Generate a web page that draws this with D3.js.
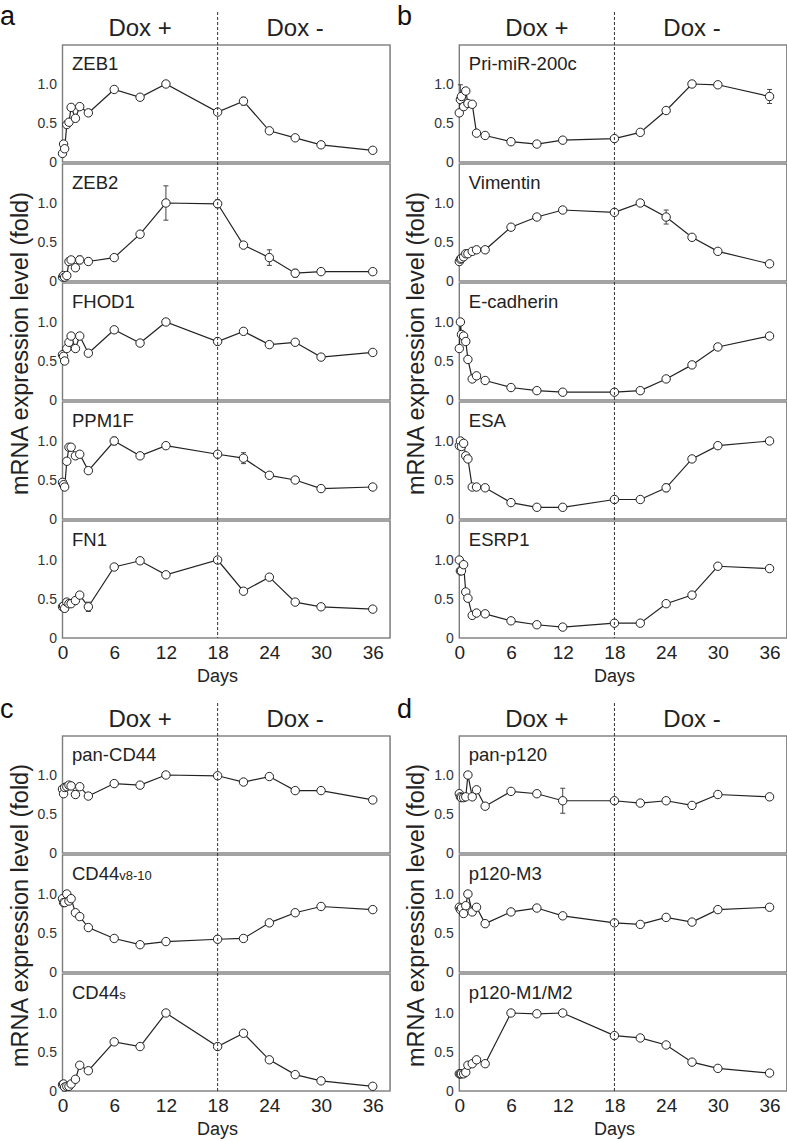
<!DOCTYPE html>
<html>
<head>
<meta charset="utf-8">
<script src="https://cdn.jsdelivr.net/npm/d3@7"></script>
<style>
  body { margin: 0; background: #fff; }
  svg { display: block; font-family: "Liberation Sans", Arial, sans-serif; }
</style>
</head>
<body>
<script>
// sampling days (0, 3h, 6h, 12h, 18h, 1d, 1.5d, 2d, 3d, then every 3-6 days)
const days = [0, 0.125, 0.25, 0.5, 0.75, 1, 1.5, 2, 3, 6, 9, 12, 18, 21, 24, 27, 30, 36];
const dayTicks = [0, 6, 12, 18, 24, 30, 36];
const levelTicks = [0, 0.5, 1.0];

// relative mRNA level
const zeb1 = [0.11, 0.23, 0.17, 0.48, 0.51, 0.70, 0.56, 0.71, 0.63, 0.93, 0.83, 1.00, 0.64, 0.78, 0.40, 0.31, 0.22, 0.15];
const zeb2 = [0.05, 0.07, 0.05, 0.07, 0.25, 0.27, 0.17, 0.27, 0.25, 0.30, 0.60, 1.00, 0.99, 0.46, 0.30, 0.10, 0.12, 0.12];
const fhod1 = [0.58, 0.56, 0.50, 0.66, 0.74, 0.82, 0.66, 0.82, 0.60, 0.90, 0.73, 1.00, 0.75, 0.88, 0.71, 0.74, 0.55, 0.61];
const ppm1f = [0.47, 0.44, 0.41, 0.74, 0.92, 0.92, 0.81, 0.83, 0.62, 1.00, 0.81, 0.94, 0.83, 0.78, 0.56, 0.50, 0.39, 0.41];
const fn1 = [0.40, 0.41, 0.38, 0.46, 0.44, 0.44, 0.48, 0.55, 0.40, 0.91, 0.99, 0.81, 1.00, 0.60, 0.78, 0.46, 0.40, 0.37];

const priMiR200c = [0.63, 0.80, 0.84, 0.71, 0.91, 0.75, 0.74, 0.37, 0.34, 0.26, 0.23, 0.28, 0.30, 0.38, 0.66, 1.00, 0.99, 0.84];
const vimentin = [0.25, 0.28, 0.29, 0.31, 0.35, 0.35, 0.38, 0.40, 0.40, 0.69, 0.82, 0.91, 0.88, 1.00, 0.82, 0.56, 0.38, 0.22];
const eCadherin = [0.66, 1.00, 0.84, 0.82, 0.75, 0.52, 0.27, 0.31, 0.25, 0.16, 0.12, 0.10, 0.10, 0.12, 0.27, 0.45, 0.68, 0.82];
const esa = [0.94, 1.00, 0.93, 0.97, 0.81, 0.77, 0.41, 0.41, 0.40, 0.21, 0.15, 0.15, 0.25, 0.25, 0.40, 0.77, 0.94, 1.00];
const esrp1 = [1.00, 0.86, 0.86, 0.94, 0.59, 0.51, 0.29, 0.32, 0.31, 0.22, 0.17, 0.14, 0.19, 0.19, 0.44, 0.55, 0.92, 0.89];

const panCD44 = [0.82, 0.76, 0.84, 0.85, 0.87, 0.86, 0.75, 0.85, 0.73, 0.89, 0.87, 1.00, 0.99, 0.91, 0.98, 0.80, 0.80, 0.68];
const cd44v = [0.94, 0.89, 0.89, 1.00, 0.91, 0.94, 0.76, 0.71, 0.57, 0.43, 0.35, 0.39, 0.42, 0.43, 0.63, 0.76, 0.84, 0.80];
const cd44s = [0.08, 0.09, 0.05, 0.06, 0.06, 0.09, 0.15, 0.33, 0.26, 0.63, 0.57, 1.00, 0.57, 0.74, 0.40, 0.21, 0.13, 0.06];

const panP120 = [0.76, 0.72, 0.71, 0.71, 0.72, 1.00, 0.72, 0.81, 0.60, 0.79, 0.76, 0.67, 0.67, 0.64, 0.67, 0.61, 0.75, 0.72];
const p120M3 = [0.83, 0.80, 0.82, 0.75, 0.85, 1.00, 0.77, 0.83, 0.62, 0.77, 0.82, 0.72, 0.63, 0.61, 0.70, 0.64, 0.80, 0.83];
const p120M1M2 = [0.22, 0.22, 0.22, 0.22, 0.24, 0.33, 0.35, 0.40, 0.35, 1.00, 0.99, 1.00, 0.71, 0.68, 0.59, 0.37, 0.29, 0.23];

// [gene, day, +/- error]
const errorBars = [
  ["ZEB1", 21, 0.05],
  ["ZEB2", 1, 0.04], ["ZEB2", 2, 0.05], ["ZEB2", 12, 0.22], ["ZEB2", 18, 0.05], ["ZEB2", 24, 0.10], ["ZEB2", 27, 0.05],
  ["FHOD1", 6, 0.04], ["FHOD1", 12, 0.04],
  ["PPM1F", 6, 0.05], ["PPM1F", 21, 0.07],
  ["FN1", 3, 0.06], ["FN1", 9, 0.04],
  ["Pri-miR-200c", 0.125, 0.19], ["Pri-miR-200c", 27, 0.04], ["Pri-miR-200c", 36, 0.09],
  ["Vimentin", 24, 0.09],
  ["ESA", 24, 0.05],
  ["pan-p120", 12, 0.16]
];

const series = {
  "ZEB1": zeb1, "ZEB2": zeb2, "FHOD1": fhod1, "PPM1F": ppm1f, "FN1": fn1,
  "Pri-miR-200c": priMiR200c, "Vimentin": vimentin, "E-cadherin": eCadherin, "ESA": esa, "ESRP1": esrp1,
  "pan-CD44": panCD44, "CD44v8-10": cd44v, "CD44s": cd44s,
  "pan-p120": panP120, "p120-M3": p120M3, "p120-M1/M2": p120M1M2
};
// label text, with optional subscript part
const labels = {
  "CD44v8-10": ["CD44", "v8-10"],
  "CD44s": ["CD44", "s"]
};

const panels = [
  { letter: "a", genes: ["ZEB1", "ZEB2", "FHOD1", "PPM1F", "FN1"], x0: 62.5, top: 45, lx: 0, ly: 25 },
  { letter: "b", genes: ["Pri-miR-200c", "Vimentin", "E-cadherin", "ESA", "ESRP1"], x0: 459.3, top: 45, lx: 397, ly: 25 },
  { letter: "c", genes: ["pan-CD44", "CD44v8-10", "CD44s"], x0: 62.5, top: 736, lx: 0, ly: 718 },
  { letter: "d", genes: ["pan-p120", "p120-M3", "p120-M1/M2"], x0: 459.3, top: 736, lx: 397, ly: 718 }
];

const W = 787, H = 1141;
const plotW = 327.5, plotH = 117, step = 119;
const ink = "#222";

const svg = d3.select("body").append("svg")
    .attr("width", W)
    .attr("height", H);

// faint panel edges left over from the figure assembly
svg.append("g")
    .attr("stroke", "#d4d4d4")
    .attr("stroke-width", 1)
    .selectAll("line")
    .data([[45, 638], [736, 1091]])
    .join("line")
    .attr("x1", 390.5).attr("x2", 390.5)
    .attr("y1", d => d[0]).attr("y2", d => d[1]);

panels.forEach(p => {
    const g = svg.append("g");
    const x = d3.scaleLinear().domain([0, 38]).range([p.x0, p.x0 + plotW]);
    const bottom = p.top + (p.genes.length - 1) * step + plotH;

    g.append("text")
        .attr("x", p.lx).attr("y", p.ly)
        .attr("font-size", 27)
        .attr("fill", "#111")
        .text(p.letter);

    g.selectAll(".dox")
        .data([[9, "Dox +"], [27, "Dox -"]])
        .join("text")
        .attr("x", d => x(d[0]))
        .attr("y", p.top - 9.5)
        .attr("text-anchor", "middle")
        .attr("font-size", 24)
        .attr("fill", ink)
        .text(d => d[1]);

    g.append("text")
        .attr("transform", `translate(${p.x0 - 35},${(p.top + bottom) / 2 + 2}) rotate(-90)`)
        .attr("text-anchor", "middle")
        .attr("font-size", 23.5)
        .attr("fill", ink)
        .text("mRNA expression level (fold)");

    p.genes.forEach((name, i) => {
        const t = p.top + i * step;
        const y = d3.scaleLinear().domain([0, 1.5]).range([t + plotH, t]);
        const vals = series[name];
        const pts = days.map((d, j) => [d, vals[j]]);
        const sub = g.append("g");

        sub.append("rect")
            .attr("x", p.x0).attr("y", t)
            .attr("width", plotW).attr("height", plotH)
            .attr("fill", "none")
            .attr("stroke", "#7d7d7d")
            .attr("stroke-width", 1.4);

        const ya = sub.append("g")
            .attr("transform", `translate(${p.x0},0)`)
            .call(d3.axisLeft(y).tickValues(levelTicks).tickSize(0).tickPadding(5.5)
                .tickFormat(d => d === 0 ? "0" : d3.format(".1f")(d)));
        ya.select(".domain").remove();
        ya.selectAll("text")
            .attr("font-size", 14)
            .attr("font-family", "Liberation Sans, Arial, sans-serif")
            .attr("fill", "#333");

        const lab = labels[name] || [name, ""];
        const tl = sub.append("text")
            .attr("x", p.x0 + 9.5).attr("y", t + 25)
            .attr("font-size", 18.5)
            .attr("fill", ink);
        tl.append("tspan").text(lab[0]);
        if (lab[1]) tl.append("tspan").attr("font-size", 13).text(lab[1]);

        sub.append("path")
            .datum(pts)
            .attr("fill", "none")
            .attr("stroke", ink)
            .attr("stroke-width", 1.2)
            .attr("d", d3.line().x(d => x(d[0])).y(d => y(d[1])));

        const errs = errorBars.filter(e => e[0] === name).map(e => {
            const j = days.indexOf(e[1]);
            return { day: e[1], v: vals[j], e: e[2] };
        });
        const eb = sub.append("g").attr("stroke", "#444").attr("stroke-width", 1);
        eb.selectAll(".bar").data(errs).join("line")
            .attr("x1", d => x(d.day)).attr("x2", d => x(d.day))
            .attr("y1", d => y(d.v - d.e)).attr("y2", d => y(d.v + d.e));
        eb.selectAll(".capHi").data(errs).join("line")
            .attr("x1", d => x(d.day) - 2.5).attr("x2", d => x(d.day) + 2.5)
            .attr("y1", d => y(d.v + d.e)).attr("y2", d => y(d.v + d.e));
        eb.selectAll(".capLo").data(errs).join("line")
            .attr("x1", d => x(d.day) - 2.5).attr("x2", d => x(d.day) + 2.5)
            .attr("y1", d => y(d.v - d.e)).attr("y2", d => y(d.v - d.e));

        sub.append("g")
            .selectAll("circle")
            .data(pts)
            .join("circle")
            .attr("cx", d => x(d[0]))
            .attr("cy", d => y(d[1]))
            .attr("r", 4.2)
            .attr("fill", "#fff")
            .attr("stroke", ink)
            .attr("stroke-width", 1);
    });

    // Dox withdrawal at day 18
    g.append("line")
        .attr("x1", x(18)).attr("x2", x(18))
        .attr("y1", p.top - 33).attr("y2", bottom)
        .attr("stroke", "#333")
        .attr("stroke-width", 1)
        .attr("stroke-dasharray", "3,2");

    const xa = g.append("g")
        .attr("transform", `translate(0,${bottom})`)
        .call(d3.axisBottom(x).tickValues(dayTicks).tickSize(0).tickPadding(8));
    xa.select(".domain").remove();
    xa.selectAll("text")
        .attr("font-size", 19)
        .attr("font-family", "Liberation Sans, Arial, sans-serif")
        .attr("fill", ink);

    g.append("text")
        .attr("x", x(18)).attr("y", bottom + 44)
        .attr("text-anchor", "middle")
        .attr("font-size", 18)
        .attr("fill", ink)
        .text("Days");
});
</script>
</body>
</html>
